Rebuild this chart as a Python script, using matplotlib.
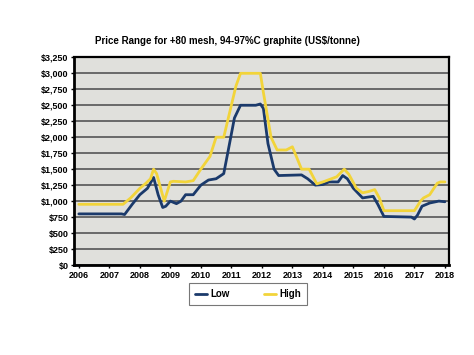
import matplotlib.pyplot as plt

# Low price series (year, US$/tonne)
low_year = [2006.0, 2007.4, 2007.5, 2007.75, 2008.0, 2008.25, 2008.45, 2008.6, 2008.75, 2008.85,
            2009.0, 2009.2, 2009.35, 2009.5, 2009.75, 2010.0, 2010.25, 2010.5, 2010.75, 2010.9,
            2011.1, 2011.3, 2011.8, 2011.95, 2012.05, 2012.2, 2012.4, 2012.55, 2013.3, 2013.5,
            2013.75, 2014.0, 2014.2, 2014.5, 2014.65, 2014.8, 2015.0, 2015.3, 2015.65, 2015.8,
            2016.0, 2016.9, 2017.0, 2017.1, 2017.25, 2017.5, 2017.8, 2018.0]
low_val = [800, 800, 790, 950, 1100, 1200, 1370, 1100, 900, 920,
           1000, 960, 1000, 1100, 1100, 1250, 1330, 1350, 1430, 1800,
           2300, 2500, 2500, 2520, 2450, 1900, 1500, 1400, 1410, 1350,
           1250, 1260, 1300, 1300, 1400, 1350, 1200, 1050, 1075, 950,
           760, 750, 720, 780, 920, 970, 1000, 990]

# High price series
high_year = [2006.0, 2007.45, 2007.7, 2008.0, 2008.2, 2008.35, 2008.45, 2008.55, 2008.8, 2009.0,
             2009.1, 2009.5, 2009.75, 2010.0, 2010.3, 2010.5, 2010.75, 2010.9, 2011.15, 2011.3,
             2011.95, 2012.05, 2012.3, 2012.5, 2012.8, 2013.0, 2013.3, 2013.55, 2013.8, 2014.0,
             2014.45, 2014.7, 2014.85, 2015.1, 2015.3, 2015.5, 2015.7, 2015.85, 2016.0, 2017.0,
             2017.2, 2017.3, 2017.5, 2017.75, 2017.85, 2018.0]
high_val = [950, 950, 1050, 1200, 1280, 1350, 1500, 1430, 1000, 1300,
            1310, 1300, 1320, 1500, 1700, 2000, 2000, 2300, 2800, 3000,
            3000, 2700, 2000, 1800, 1800, 1850, 1500, 1500, 1270, 1300,
            1380, 1500, 1420, 1200, 1130, 1150, 1180, 1050, 850, 850,
            1000, 1050, 1100, 1280, 1300, 1300]

years = list(range(2006, 2019))
yticks = list(range(0, 3251, 250))

plt.rcParams['font.family'] = ['Liberation Sans', 'DejaVu Sans']

fig = plt.figure(figsize=(4.74, 3.55), dpi=100)
ax = fig.add_axes([0.156, 0.2535, 0.791, 0.585])
ax.set_facecolor('#e0e0dc')

ax.plot(low_year, low_val, color='#1b3a6b', lw=2, label='Low',
        solid_joinstyle='round', solid_capstyle='round', zorder=3)
ax.plot(high_year, high_val, color='#f2d43a', lw=2, label='High',
        solid_joinstyle='round', solid_capstyle='round', zorder=3)

ax.set_xlim(2005.84, 2018.13)
ax.set_ylim(0, 3250)
ax.set_xticks(years)
ax.set_xticklabels([str(y) for y in years], fontsize=6.5, fontweight='bold')
ax.set_yticks(yticks)
ax.set_yticklabels(['${:,}'.format(v) for v in yticks], fontsize=6.5, fontweight='bold')
ax.tick_params(axis='both', length=2, width=1, pad=2)
ax.grid(axis='y', color='#606060', lw=1.3, zorder=1)
ax.set_axisbelow(True)
for s in ax.spines.values():
    s.set_linewidth(1.6)
    s.set_color('black')
ax.spines['left'].set_linewidth(2)
ax.spines['bottom'].set_linewidth(2)

fig.text(0.48, 0.885, 'Price Range for +80 mesh, 94-97%C graphite (US$/tonne)',
         ha='center', va='center', fontsize=7, fontweight='bold')

leg = fig.legend(loc='center', bbox_to_anchor=(0.523, 0.172), ncol=2, fancybox=False,
                 handlelength=1.3, handletextpad=0.3, columnspacing=3.5,
                 prop={'size': 7, 'weight': 'bold'},
                 edgecolor='#555555', borderpad=0.6)
leg.get_frame().set_linewidth(0.8)

plt.savefig('out.png', dpi=100)
